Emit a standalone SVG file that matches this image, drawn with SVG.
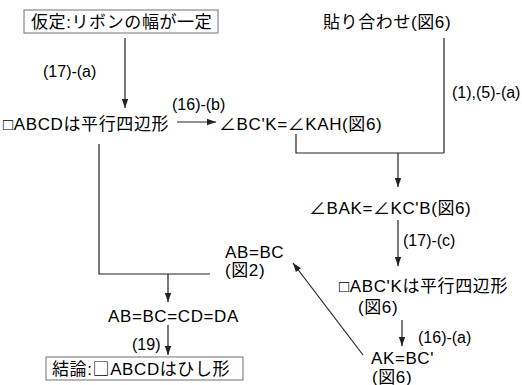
<svg xmlns="http://www.w3.org/2000/svg" width="522" height="385" viewBox="0 0 522 385">
<defs>
<marker id="ah" markerUnits="userSpaceOnUse" markerWidth="10" markerHeight="8" refX="9" refY="4" orient="auto">
<path d="M0,0.8 L9,4 L0,7.2 Z" fill="#222"/>
</marker>
<style>
text{font-family:"Liberation Sans","Noto Sans CJK JP",sans-serif;fill:#000}
.n{font-size:17px;letter-spacing:0.6px}
.l{font-size:16px}
.b{fill:#fff;stroke:#888;stroke-width:1.2}
.c line,.c polyline{stroke:#222;stroke-width:1.2;fill:none}
.a{marker-end:url(#ah)}
.cjk{font-family:"Noto Sans CJK JP",sans-serif}
</style>
</defs>
<rect width="522" height="385" fill="#fff"/>
<g class="c" id="connectors">
<line class="a" x1="125" y1="38" x2="125" y2="108"/>
<line class="a" x1="177" y1="122" x2="216" y2="122"/>
<polyline points="296,134 296,153 444,153"/>
<line x1="444" y1="38" x2="444" y2="153"/>
<line class="a" x1="398" y1="153" x2="398" y2="187"/>
<line class="a" x1="398" y1="220" x2="398" y2="266"/>
<line class="a" x1="402" y1="320" x2="402" y2="346"/>
<line class="a" x1="363" y1="355" x2="293" y2="263"/>
<polyline points="99,144 99,274 210,274"/>
<line class="a" x1="168" y1="274" x2="168" y2="302"/>
<line class="a" x1="168" y1="325" x2="168" y2="355"/>
<text class="l" x="43" y="77">(17)-(a)</text>
<text class="l" x="172" y="110">(16)-(b)</text>
<text class="l" x="452" y="98">(1),(5)-(a)</text>
<text class="l" x="403" y="246">(17)-(c)</text>
<text class="l" x="418" y="343">(16)-(a)</text>
<text class="l" x="132" y="350">(19)</text>
</g>
<g id="assumption">
<rect class="b" x="24" y="10" width="194" height="23"/>
<text class="n" x="31" y="28">仮定:リボンの幅が一定</text>
</g>
<g id="paste">
<text class="n" x="323" y="28">貼り合わせ(図6)</text>
</g>
<g id="parallelogram">
<text class="n" x="3" y="130">□ABCDは平行四辺形</text>
</g>
<g id="angle1">
<text class="n" x="219" y="130">∠BC'K=∠KAH(図6)</text>
</g>
<g id="angle2">
<text class="n" x="309" y="214">∠BAK=∠KC'B(図6)</text>
</g>
<g id="parallelogram2">
<text class="n" x="339" y="292">□ABC'Kは平行四辺形</text>
<text class="n" x="358" y="313">(図6)</text>
</g>
<g id="akbc">
<text class="n" x="371" y="364">AK=BC'</text>
<text class="n" x="372" y="383">(図6)</text>
</g>
<g id="abbc">
<text class="n" x="225" y="258">AB=BC</text>
<text class="n" x="225" y="276">(図2)</text>
</g>
<g id="allequal">
<text class="n" x="108" y="322">AB=BC=CD=DA</text>
</g>
<g id="conclusion">
<rect class="b" x="46" y="357" width="197" height="23"/>
<text class="n" x="52" y="375">結論:<tspan class="cjk">□</tspan>ABCDはひし形</text>
</g>
</svg>
